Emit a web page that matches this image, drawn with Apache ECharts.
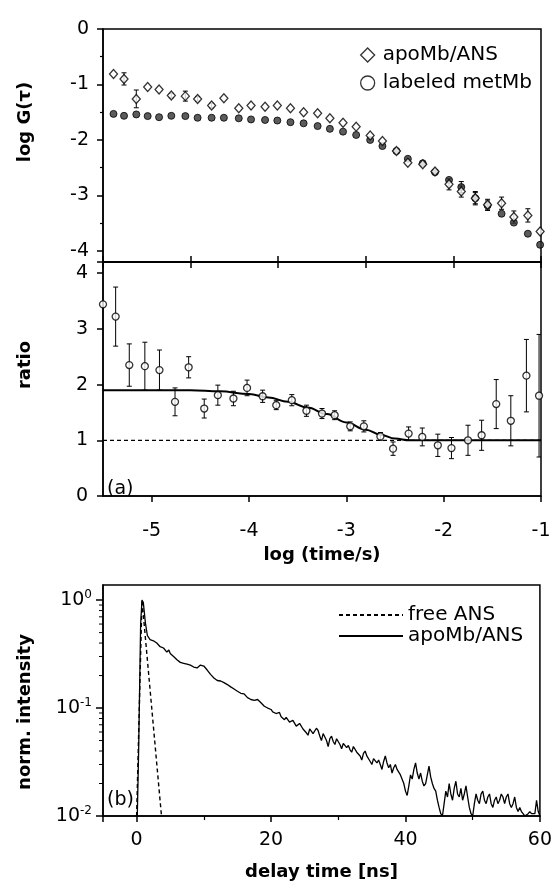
<!DOCTYPE html>
<html><head><meta charset="utf-8">
<script src="https://cdn.jsdelivr.net/npm/echarts@6/dist/echarts.min.js"></script>
<style>html,body{margin:0;padding:0;background:#fff}#c{width:555px;height:885px}</style>
</head><body><div id="c"></div>
<script>
// ---- panel (top): log G(tau) vs log(time/s)
const logTime = [-5.88,-5.76,-5.62,-5.49,-5.36,-5.22,-5.06,-4.92,-4.76,-4.62,-4.45,-4.31,-4.15,-4.01,-3.86,-3.71,-3.55,-3.41,-3.26,-3.11,-2.95,-2.81,-2.65,-2.52,-2.35,-2.21,-2.05,-1.91,-1.75,-1.61,-1.45,-1.31,-1.15,-1.01];
const apoG = [-0.81,-0.90,-1.26,-1.045,-1.09,-1.20,-1.21,-1.26,-1.38,-1.25,-1.43,-1.38,-1.40,-1.38,-1.43,-1.50,-1.52,-1.61,-1.69,-1.76,-1.92,-2.02,-2.20,-2.41,-2.44,-2.57,-2.80,-2.93,-3.05,-3.17,-3.14,-3.39,-3.36,-3.65];
const apoGErr = [0,0.11,0.16,0,0,0.04,0.09,0.04,0.04,0,0,0,0,0,0,0,0,0,0,0,0,0,0,0,0,0,0.1,0.1,0.12,0.1,0.11,0.11,0.12,0];
const metG = [-1.53,-1.565,-1.54,-1.57,-1.59,-1.565,-1.57,-1.60,-1.60,-1.60,-1.61,-1.63,-1.64,-1.65,-1.68,-1.70,-1.75,-1.80,-1.85,-1.91,-2.00,-2.11,-2.20,-2.34,-2.42,-2.58,-2.72,-2.85,-3.05,-3.18,-3.33,-3.49,-3.69,-3.89];
const metGErr = [0,0,0,0,0,0,0,0,0,0,0,0,0,0,0,0,0,0,0,0,0,0,0,0,0,0,0,0.1,0.1,0.08,0,0,0,0];
const gTicks = [0,-1,-2,-3,-4];

// ---- panel (a): ratio
const ratioTime = [-5.50,-5.37,-5.23,-5.07,-4.92,-4.76,-4.62,-4.46,-4.32,-4.16,-4.02,-3.86,-3.72,-3.56,-3.41,-3.25,-3.12,-2.96,-2.82,-2.65,-2.52,-2.36,-2.22,-2.06,-1.92,-1.75,-1.61,-1.46,-1.31,-1.15,-1.02];
const ratio = [3.44,3.22,2.35,2.33,2.26,1.69,2.31,1.57,1.81,1.75,1.94,1.79,1.63,1.72,1.53,1.48,1.45,1.25,1.25,1.07,0.85,1.12,1.06,0.91,0.86,1.00,1.09,1.65,1.35,2.16,1.80];
const ratioErr = [0,0.53,0.38,0.43,0.36,0.25,0.19,0.17,0.18,0.13,0.14,0.11,0.08,0.10,0.10,0.09,0.08,0.08,0.10,0.07,0.12,0.12,0.16,0.20,0.19,0.27,0.27,0.44,0.45,0.65,1.1];
const fitTime = [-5.5,-4.6,-4.3,-4.0,-3.8,-3.6,-3.4,-3.2,-3.0,-2.8,-2.65,-2.5,-2.35,-1.0];
const fitRatio = [1.90,1.90,1.88,1.83,1.77,1.69,1.59,1.47,1.32,1.19,1.10,1.03,1.0,1.0];
const baseTime = [-5.5,-1.0];
const baseRatio = [1,1];
const timeTicks = [-5,-4,-3,-2,-1];

// ---- panel (b): fluorescence decay
const freeDecay = [[0.0,0.01],[0.8,1.0],[3.7,0.01]];
const apoDecay = [[0.1,0.01],[0.3,0.04],[0.6,0.6],[0.8,1.0],[1.0,0.95],[1.3,0.62],[1.6,0.47],[2.0,0.43],[2.5,0.42],[3.0,0.40],[3.5,0.37],[4.0,0.36],[4.5,0.33],[4.8,0.345],[5.0,0.32],[5.5,0.30],[6.0,0.28],[6.5,0.265],[7.0,0.26],[7.5,0.255],[8.0,0.25],[8.5,0.24],[9.0,0.235],[9.5,0.25],[10.0,0.245],[10.5,0.225],[11.0,0.205],[11.5,0.19],[12.0,0.18],[12.5,0.178],[13.0,0.172],[13.5,0.165],[14.0,0.157],[14.5,0.15],[15.0,0.143],[15.5,0.137],[16.0,0.135],[16.5,0.125],[17.0,0.12],[17.5,0.118],[18.0,0.12],[18.5,0.112],[19.0,0.104],[19.5,0.1],
[20.0,0.097],[20.25,0.092],[20.5,0.095],[20.75,0.089],[21.0,0.088],[21.25,0.091],[21.5,0.083],[21.75,0.085],[22.0,0.078],[22.25,0.082],[22.5,0.08],[22.75,0.074],[23.0,0.072],[23.25,0.077],[23.5,0.074],[23.75,0.068],[24.0,0.066],[24.25,0.072],[24.5,0.07],[24.75,0.064],[25.0,0.063],[25.25,0.059],[25.5,0.056],[25.75,0.064],[26.0,0.066],[26.25,0.058],[26.5,0.06],[26.75,0.065],[27.0,0.062],[27.25,0.055],[27.5,0.05],[27.75,0.058],[28.0,0.056],[28.25,0.05],[28.5,0.044],[28.75,0.052],[29.0,0.055],[29.25,0.049],[29.5,0.046],[29.75,0.052],[30.0,0.05],[30.25,0.046],[30.5,0.042],[30.75,0.047],[31.0,0.048],[31.25,0.043],[31.5,0.045],[31.75,0.041],[32.0,0.039],[32.25,0.044],[32.5,0.043],[32.75,0.039],[33.0,0.038],[33.25,0.036],[33.5,0.033],[33.75,0.038],[34.0,0.04],[34.25,0.036],[34.5,0.035],[34.75,0.032],[35.0,0.03],[35.25,0.034],[35.5,0.035],[35.75,0.031],[36.0,0.033],[36.25,0.03],[36.5,0.027],[36.75,0.032],[37.0,0.036],[37.25,0.031],[37.5,0.028],[37.75,0.03],[38.0,0.025],[38.25,0.028],[38.5,0.03],[38.75,0.027],[39.0,0.027],[39.25,0.024],[39.5,0.023],[39.75,0.02],[40.0,0.017],[40.25,0.0155],[40.5,0.019],[40.75,0.024],[41.0,0.022],[41.25,0.027],[41.5,0.031],[41.75,0.025],[42.0,0.022],[42.25,0.025],[42.5,0.021],[42.75,0.019],[43.0,0.02],[43.25,0.024],[43.5,0.029],[43.75,0.023],[44.0,0.02],[44.25,0.018],[44.5,0.017],[44.75,0.014],[45.0,0.012],[45.25,0.0105],[45.5,0.01],[45.75,0.013],[46.0,0.017],[46.25,0.015],[46.5,0.02],[46.75,0.016],[47.0,0.014],[47.25,0.018],[47.5,0.021],[47.75,0.016],[48.0,0.015],[48.25,0.018],[48.5,0.014],[48.75,0.016],[49.0,0.019],[49.25,0.015],[49.5,0.012],[49.75,0.0105],[50.0,0.01],[50.25,0.013],[50.5,0.016],[50.75,0.014],[51.0,0.013],[51.25,0.016],[51.5,0.017],[51.75,0.014],[52.0,0.013],[52.25,0.015],[52.5,0.016],[52.75,0.013],[53.0,0.012],[53.25,0.014],[53.5,0.015],[53.75,0.013],[54.0,0.014],[54.25,0.016],[54.5,0.015],[54.75,0.013],[55.0,0.015],[55.25,0.016],[55.5,0.013],[55.75,0.012],[56.0,0.013],[56.25,0.015],[56.5,0.012],[56.75,0.011],[57.0,0.012],[57.25,0.011],[57.5,0.0105],[57.75,0.01],[58.0,0.01],[58.25,0.0105],[58.5,0.011],[58.75,0.0105],[59.0,0.0103],[59.25,0.0105],[59.5,0.014],[59.75,0.011],[60.0,0.01]];
const logMinorTicks = [0.02,0.03,0.04,0.05,0.06,0.07,0.08,0.09,0.2,0.3,0.4,0.5,0.6,0.7,0.8,0.9];

const FONT = 'DejaVu Sans';
const K = '#000';

function errRender(params, api) {
  const x = api.value(0), lo = api.value(1), hi = api.value(2);
  const p1 = api.coord([x, hi]), p2 = api.coord([x, lo]);
  const w = 2.5, st = {stroke: K, lineWidth: 1};
  return {type: 'group', children: [
    {type: 'line', shape: {x1: p1[0], y1: p1[1], x2: p2[0], y2: p2[1]}, style: st},
    {type: 'line', shape: {x1: p1[0]-w, y1: p1[1], x2: p1[0]+w, y2: p1[1]}, style: st},
    {type: 'line', shape: {x1: p2[0]-w, y1: p2[1], x2: p2[0]+w, y2: p2[1]}, style: st}
  ]};
}
function errData(xs, ys, es) {
  const out = [];
  xs.forEach((x, i) => { if (es[i] > 0) out.push([x, ys[i]-es[i], ys[i]+es[i]]); });
  return out;
}
function minorTickRender(params, api) {
  const p = api.coord([0, api.value(0)]);
  const x0 = params.coordSys.x;
  return {type: 'line', shape: {x1: x0-4, y1: p[1], x2: x0, y2: p[1]}, style: {stroke: K, lineWidth: 1}};
}

const axisLine = {show: true, onZero: false, lineStyle: {color: K, width: 1.5}};
const tickStyle = {lineStyle: {color: K, width: 1.5}};
const lbl = {color: K, fontFamily: FONT, fontSize: 19};

const chart = echarts.init(document.getElementById('c'), null, {renderer: 'canvas'});
chart.setOption({
  animation: false,
  backgroundColor: '#fff',
  grid: [
    {left: 103, right: 14, top: 29, height: 233, show: true, borderColor: K, borderWidth: 1.5},
    {left: 103, right: 14, top: 262, height: 234, show: true, borderColor: K, borderWidth: 1.5},
    {left: 103, right: 14, top: 585, height: 231, show: true, borderColor: K, borderWidth: 1.5}
  ],
  xAxis: [
    {gridIndex: 0, type: 'value', min: -6, max: -1, interval: 1, axisLine, splitLine: {show: false},
     axisTick: {show: true, inside: false, length: 6, ...tickStyle}, axisLabel: {show: false}},
    {gridIndex: 1, type: 'value', min: -5.5, max: -1, splitNumber: 5, axisLine, splitLine: {show: false},
     axisTick: {show: true, length: 6, ...tickStyle},
     axisLabel: {...lbl, margin: 26, showMinLabel: false, formatter: v => timeTicks.includes(v) ? String(v) : ''},
     name: 'log (time/s)', nameLocation: 'middle', nameGap: 50,
     nameTextStyle: {color: K, fontFamily: FONT, fontWeight: 'bold', fontSize: 18}},
    {gridIndex: 1, type: 'value', position: 'top', min: -6, max: -1, interval: 1, axisLine, splitLine: {show: false},
     axisTick: {show: true, length: 6, ...tickStyle}, axisLabel: {show: false}},
    {gridIndex: 2, type: 'value', min: -5, max: 60, splitNumber: 3, axisLine, splitLine: {show: false},
     axisTick: {show: true, length: 6, ...tickStyle},
     minorTick: {show: true, splitNumber: 2, length: 4, lineStyle: {color: K, width: 1.2}},
     axisLabel: {...lbl, margin: 15, showMinLabel: false},
     name: 'delay time [ns]', nameLocation: 'middle', nameGap: 47,
     nameTextStyle: {color: K, fontFamily: FONT, fontWeight: 'bold', fontSize: 18}}
  ],
  yAxis: [
    {gridIndex: 0, type: 'value', min: -4.2, max: 0, splitNumber: 4, axisLine, splitLine: {show: false},
     axisTick: {show: true, length: 6, ...tickStyle},
     minorTick: {show: true, splitNumber: 2, length: 3, lineStyle: {color: K, width: 1.2}},
     axisLabel: {...lbl, margin: 14, showMinLabel: false, formatter: v => gTicks.includes(v) ? String(v) : ''}},
    {gridIndex: 1, type: 'value', min: 0, max: 4.2, splitNumber: 4, axisLine, splitLine: {show: false},
     axisTick: {show: true, length: 6, ...tickStyle},
     axisLabel: {...lbl, margin: 15, showMaxLabel: false, formatter: v => Number.isInteger(v) ? String(v) : ''}},
    {gridIndex: 2, type: 'log', logBase: 10, min: 0.01, max: 1.38, axisLine, splitLine: {show: false},
     axisTick: {show: true, length: 7, ...tickStyle},
     axisLabel: {color: K, margin: 11, showMaxLabel: false,
       formatter: v => { const e = Math.round(Math.log10(v)); return '{b|10}{s|' + (e === 0 ? '0' : String(e)) + '}'; },
       rich: {b: {fontFamily: FONT, fontSize: 19, color: K, lineHeight: 22},
              s: {fontFamily: FONT, fontSize: 12, color: K, verticalAlign: 'top', lineHeight: 22, padding: [0, 0, 10, 0]}}}}
  ],
  legend: [
    {left: 355, top: 40, orient: 'vertical', itemWidth: 14, itemHeight: 14, itemGap: 8,
     textStyle: {color: K, fontFamily: FONT, fontSize: 20, padding: [0, 0, 0, 3]},
     data: [
       {name: 'apoMb/ANS', icon: 'diamond', itemStyle: {color: '#fff', borderColor: K, borderWidth: 1.3}},
       {name: 'labeled metMb', icon: 'circle', itemStyle: {color: '#fff', borderColor: K, borderWidth: 1.3}}
     ]},
    {left: 333, top: 600, orient: 'vertical', itemWidth: 64, itemHeight: 14, itemGap: 1,
     textStyle: {color: K, fontFamily: FONT, fontSize: 20},
     formatter: n => n === 'apoMb/ANS decay' ? 'apoMb/ANS' : n,
     data: [
       {name: 'free ANS', itemStyle: {opacity: 0}},
       {name: 'apoMb/ANS decay', itemStyle: {opacity: 0}}
     ]}
  ],
  graphic: [
    {type: 'text', x: 25, y: 122, rotation: Math.PI/2,
     style: {text: 'log G(τ)', fill: K, font: 'bold 18px "DejaVu Sans"', textAlign: 'center', textVerticalAlign: 'middle'}},
    {type: 'text', x: 25, y: 365, rotation: Math.PI/2,
     style: {text: 'ratio', fill: K, font: 'bold 18px "DejaVu Sans"', textAlign: 'center', textVerticalAlign: 'middle'}},
    {type: 'text', x: 25, y: 712, rotation: Math.PI/2,
     style: {text: 'norm. intensity', fill: K, font: 'bold 18px "DejaVu Sans"', textAlign: 'center', textVerticalAlign: 'middle'}},
    {type: 'text', x: 107, y: 489,
     style: {text: '(a)', fill: K, font: '19px "DejaVu Sans"', textAlign: 'left', textVerticalAlign: 'middle'}},
    {type: 'text', x: 107, y: 800,
     style: {text: '(b)', fill: K, font: '19px "DejaVu Sans"', textAlign: 'left', textVerticalAlign: 'middle'}}
  ],
  series: [
    {type: 'custom', name: 'apoErr', xAxisIndex: 0, yAxisIndex: 0, renderItem: errRender, clip: true,
     data: errData(logTime, apoG, apoGErr), z: 2},
    {type: 'custom', name: 'metErr', xAxisIndex: 0, yAxisIndex: 0, renderItem: errRender, clip: true,
     data: errData(logTime, metG, metGErr), z: 2},
    {type: 'scatter', name: 'labeled metMb', xAxisIndex: 0, yAxisIndex: 0, symbol: 'circle', symbolSize: 7,
     itemStyle: {color: '#333', borderColor: K, borderWidth: 1}, data: logTime.map((t, i) => [t, metG[i]]), z: 3},
    {type: 'scatter', name: 'apoMb/ANS', xAxisIndex: 0, yAxisIndex: 0, symbol: 'diamond', symbolSize: [8, 9],
     itemStyle: {color: '#fff', borderColor: K, borderWidth: 1.3}, data: logTime.map((t, i) => [t, apoG[i]]), z: 4},

    {type: 'line', name: 'base', xAxisIndex: 1, yAxisIndex: 1, symbol: 'none', silent: true,
     lineStyle: {color: K, width: 1.3, type: [4, 3]}, data: baseTime.map((t, i) => [t, baseRatio[i]]), z: 2},
    {type: 'line', name: 'fit', xAxisIndex: 1, yAxisIndex: 1, symbol: 'none', smooth: 0.4, smoothMonotone: 'x', silent: true,
     lineStyle: {color: K, width: 2}, data: fitTime.map((t, i) => [t, fitRatio[i]]), z: 3},
    {type: 'custom', name: 'ratioErr', xAxisIndex: 1, yAxisIndex: 1, renderItem: errRender, clip: true,
     data: errData(ratioTime, ratio, ratioErr), z: 4},
    {type: 'scatter', name: 'ratio', xAxisIndex: 1, yAxisIndex: 1, symbol: 'circle', symbolSize: 7,
     itemStyle: {color: '#fff', borderColor: K, borderWidth: 1.3}, data: ratioTime.map((t, i) => [t, ratio[i]]), z: 5},

    {type: 'line', name: 'free ANS', xAxisIndex: 3, yAxisIndex: 2, symbol: 'none',
     lineStyle: {color: K, width: 1.4, type: [4, 3]}, itemStyle: {color: K}, data: freeDecay, z: 3},
    {type: 'line', name: 'apoMb/ANS decay', xAxisIndex: 3, yAxisIndex: 2, symbol: 'none',
     lineStyle: {color: K, width: 1.3}, itemStyle: {color: K}, data: apoDecay, z: 3},
    {type: 'custom', name: 'logMinor', xAxisIndex: 3, yAxisIndex: 2, renderItem: minorTickRender, clip: false,
     data: logMinorTicks.map(v => [v]), encode: {y: 0}, silent: true, z: 5}
  ]
});
</script>
</body></html>
